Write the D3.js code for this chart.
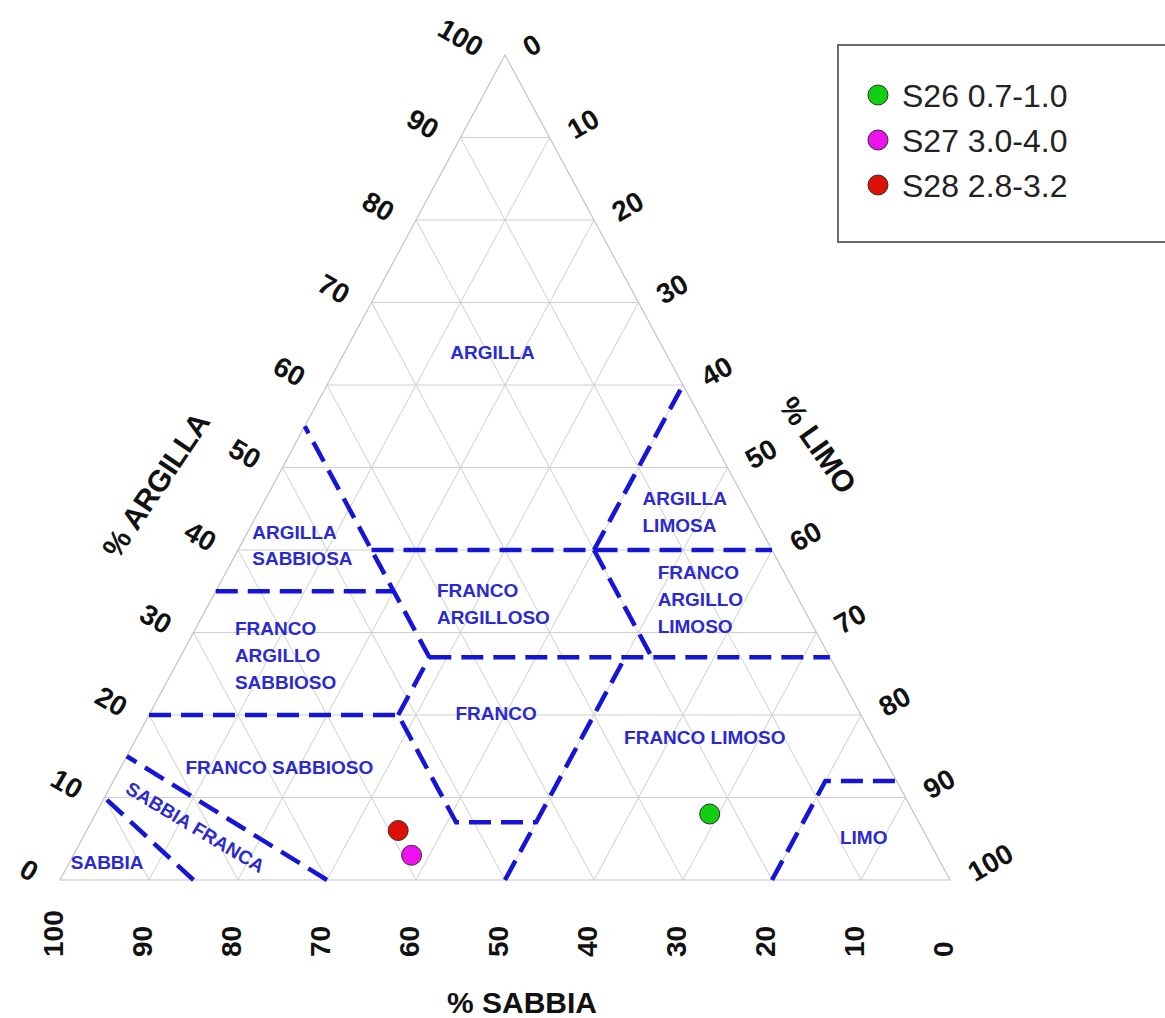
<!DOCTYPE html>
<html>
<head>
<meta charset="utf-8">
<script src="https://cdn.jsdelivr.net/npm/d3@7/dist/d3.min.js"></script>
<style>
  body { margin: 0; background: #fff; }
  svg { display: block; }
  text { font-family: "Liberation Sans", Arial, sans-serif; }
</style>
</head>
<body>
<svg id="chart"></svg>
<script>
// tick values shared by the three axes
const tickValues = [0, 10, 20, 30, 40, 50, 60, 70, 80, 90, 100];

// samples (sand, silt, clay in %)
const sampleNames = ['S26 0.7-1.0', 'S27 3.0-4.0', 'S28 2.8-3.2'];
const sampleSand = [23, 59, 59];
const sampleSilt = [69, 38, 35];
const sampleClay = [8, 3, 6];
const sampleColors = ['#10d010', '#ee10ee', '#dd1008'];

// class boundaries, each a polyline of [sand, silt, clay]
const boundaries = [
  [[85, 15, 0], [90, 0, 10]],
  [[70, 30, 0], [85, 0, 15]],
  [[80, 0, 20], [52, 28, 20], [52, 41, 7], [43, 50, 7]],
  [[52, 28, 20], [45, 28, 27], [45, 15, 40], [45, 0, 55]],
  [[65, 0, 35], [45, 20, 35]],
  [[45, 28, 27], [0, 73, 27]],
  [[45, 15, 40], [0, 60, 40]],
  [[20, 40, 40], [0, 40, 60]],
  [[20, 40, 40], [20, 53, 27]],
  [[50, 50, 0], [23, 50, 27]],
  [[20, 80, 0], [8, 80, 12], [0, 88, 12]]
];

// class names: lines, [sand, silt, clay] anchor, text anchor, rotation
const classLabels = [
  { lines: ['ARGILLA'], at: [19.4, 16.6, 64], anchor: 'middle', rot: 0 },
  { lines: ['ARGILLA', 'SABBIOSA'], at: [57.3, 0.5, 42.2], anchor: 'start', rot: 0 },
  { lines: ['FRANCO', 'ARGILLO', 'SABBIOSO'], at: [65.1, 4.4, 30.5], anchor: 'start', rot: 0 },
  { lines: ['FRANCO', 'ARGILLOSO'], at: [40.1, 24.8, 35.1], anchor: 'start', rot: 0 },
  { lines: ['ARGILLA', 'LIMOSA'], at: [11.4, 42.3, 46.3], anchor: 'start', rot: 0 },
  { lines: ['FRANCO', 'ARGILLO', 'LIMOSO'], at: [14.2, 48.5, 37.3], anchor: 'start', rot: 0 },
  { lines: ['FRANCO'], at: [40.9, 38.9, 20.2], anchor: 'middle', rot: 0 },
  { lines: ['FRANCO LIMOSO'], at: [18.9, 63.8, 17.3], anchor: 'middle', rot: 0 },
  { lines: ['FRANCO SABBIOSO'], at: [68.5, 17.8, 13.7], anchor: 'middle', rot: 0 },
  { lines: ['SABBIA FRANCA'], at: [81.6, 12.0, 6.4], anchor: 'middle', rot: 31 },
  { lines: ['SABBIA'], at: [93.6, 4.2, 2.2], anchor: 'middle', rot: 0 },
  { lines: ['LIMO'], at: [7.1, 87.7, 5.2], anchor: 'middle', rot: 0 }
];

const width = 1165;
const height = 1018;
const blue = '#1515d8';

const svg = d3.select('#chart')
  .attr('width', width)
  .attr('height', height);

// silt + clay/2 runs along the base, clay runs up
const xScale = d3.scaleLinear().domain([0, 100]).range([60, 950]);
const yScale = d3.scaleLinear().domain([0, 100]).range([880, 55]);
const project = ([sa, si, cl]) => [xScale(si + cl / 2), yScale(cl)];

// grid
const gridLines = [];
tickValues.slice(1, -1).forEach(v => {
  gridLines.push([[100 - v, 0, v], [0, 100 - v, v]]);
  gridLines.push([[v, 100 - v, 0], [v, 0, 100 - v]]);
  gridLines.push([[100 - v, v, 0], [0, v, 100 - v]]);
});
const line = d3.line().x(d => project(d)[0]).y(d => project(d)[1]);

svg.append('g')
  .selectAll('path')
  .data(gridLines)
  .enter().append('path')
  .attr('d', line)
  .attr('fill', 'none')
  .attr('stroke', '#cfcfcf')
  .attr('stroke-width', 1);

svg.append('path')
  .attr('d', line([[100, 0, 0], [0, 100, 0], [0, 0, 100]]) + 'Z')
  .attr('fill', 'none')
  .attr('stroke', '#c4c4c4')
  .attr('stroke-width', 1.2);

// class boundaries
svg.append('g')
  .selectAll('path')
  .data(boundaries)
  .enter().append('path')
  .attr('d', line)
  .attr('fill', 'none')
  .attr('stroke', blue)
  .attr('stroke-width', 4.5)
  .attr('stroke-dasharray', '22,10');

// class names
const cls = svg.append('g')
  .attr('fill', '#2a2ad0')
  .attr('font-size', 19)
  .attr('font-weight', 'bold')
  .selectAll('text')
  .data(classLabels)
  .enter().append('text')
  .attr('text-anchor', d => d.anchor)
  .attr('transform', d => {
    const p = project(d.at);
    return `translate(${p[0]},${p[1]}) rotate(${d.rot})`;
  });

cls.selectAll('tspan')
  .data(d => d.lines)
  .enter().append('tspan')
  .attr('x', 0)
  .attr('y', (d, i) => i * 27)
  .attr('dy', '0.35em')
  .text(d => d);

// tick labels
const tickFont = g => g.attr('font-size', 28).attr('font-weight', 'bold').attr('fill', '#111');

svg.append('g').call(tickFont)
  .selectAll('text')
  .data(tickValues)
  .enter().append('text')
  .attr('text-anchor', 'end')
  .attr('dy', '0.35em')
  .attr('transform', v => {
    const p = project([100 - v, 0, v]);
    return `translate(${p[0] - 24},${p[1] - 6}) rotate(30)`;
  })
  .text(v => v);

svg.append('g').call(tickFont)
  .selectAll('text')
  .data(tickValues)
  .enter().append('text')
  .attr('text-anchor', 'start')
  .attr('dy', '0.35em')
  .attr('transform', v => {
    const p = project([0, v, 100 - v]);
    return `translate(${p[0] + 20},${p[1] - 6}) rotate(-30)`;
  })
  .text(v => v);

svg.append('g').call(tickFont)
  .selectAll('text')
  .data(tickValues)
  .enter().append('text')
  .attr('text-anchor', 'start')
  .attr('dy', '0.35em')
  .attr('transform', v => {
    const p = project([v, 100 - v, 0]);
    return `translate(${p[0] - 7},957) rotate(-90)`;
  })
  .text(v => v);

// axis titles
const titles = svg.append('g')
  .attr('font-size', 30)
  .attr('font-weight', 'bold')
  .attr('fill', '#111')
  .attr('text-anchor', 'middle');

titles.append('text')
  .attr('transform', 'translate(156,485) rotate(-56)')
  .attr('dy', '0.35em')
  .text('% ARGILLA');

titles.append('text')
  .attr('transform', 'translate(818,445) rotate(55)')
  .attr('dy', '0.35em')
  .text('% LIMO');

titles.append('text')
  .attr('x', 522)
  .attr('y', 1013)
  .text('% SABBIA');

// samples
const samples = sampleNames.map((name, i) => ({
  name, color: sampleColors[i], pos: project([sampleSand[i], sampleSilt[i], sampleClay[i]])
}));

svg.append('g')
  .selectAll('circle')
  .data(samples)
  .enter().append('circle')
  .attr('cx', d => d.pos[0])
  .attr('cy', d => d.pos[1])
  .attr('r', 10)
  .attr('fill', d => d.color)
  .attr('stroke', '#3a2a2a')
  .attr('stroke-width', 1);

// legend
const legend = svg.append('g').attr('transform', 'translate(838,45)');

legend.append('rect')
  .attr('width', 340)
  .attr('height', 197)
  .attr('fill', '#fff')
  .attr('stroke', '#6a6a6a')
  .attr('stroke-width', 2);

const item = legend.selectAll('.item')
  .data(samples)
  .enter().append('g')
  .attr('class', 'item')
  .attr('transform', (d, i) => `translate(0,${50 + i * 45})`);

item.append('circle')
  .attr('cx', 40)
  .attr('r', 10)
  .attr('fill', d => d.color)
  .attr('stroke', '#3a2a2a')
  .attr('stroke-width', 1);

item.append('text')
  .attr('x', 64)
  .attr('dy', '0.36em')
  .attr('font-size', 32)
  .attr('fill', '#222')
  .text(d => d.name);
</script>
</body>
</html>
